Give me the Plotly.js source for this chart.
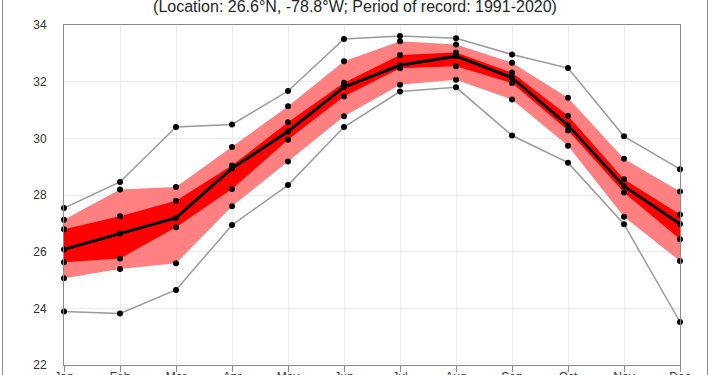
<!DOCTYPE html>
<html>
<head>
<meta charset="utf-8">
<script src="https://cdn.plot.ly/plotly-3.0.1.min.js"></script>
<style>
html, body { margin:0; padding:0; overflow:hidden; background:#fff; width:710px; height:375px; }
#chart { position:absolute; left:0; top:-20px; width:710px; height:420px; }
</style>
</head>
<body>
<div id="chart"></div>
<script>
const months = ["Jan","Feb","Mar","Apr","May","Jun","Jul","Aug","Sep","Oct","Nov","Dec"];
const tMax = [27.54, 28.46, 30.40, 30.49, 31.67, 33.51, 33.61, 33.53, 32.96, 32.48, 30.07, 28.91];
const tP90 = [27.13, 28.19, 28.28, 29.69, 31.13, 32.72, 33.43, 33.31, 32.67, 31.43, 29.28, 28.12];
const tP75 = [26.79, 27.25, 27.80, 29.04, 30.57, 31.96, 32.94, 33.03, 32.32, 30.80, 28.56, 27.31];
const tMed = [26.08, 26.64, 27.19, 28.94, 30.24, 31.81, 32.58, 32.90, 32.14, 30.46, 28.31, 26.98];
const tP25 = [25.63, 25.76, 26.86, 28.21, 29.95, 31.48, 32.47, 32.54, 31.95, 30.28, 28.09, 26.44];
const tP10 = [25.06, 25.39, 25.59, 27.60, 29.18, 30.78, 31.89, 32.07, 31.37, 29.74, 27.23, 25.67];
const tMin = [23.89, 23.82, 24.65, 26.94, 28.35, 30.40, 31.65, 31.80, 30.10, 29.14, 26.97, 23.52];
const yTicks = [22, 24, 26, 28, 30, 32, 34];
const titleText = "(Location: 26.6°N, -78.8°W; Period of record: 1991-2020)";

const noLine = {width: 0, color: 'rgba(0,0,0,0)'};
const traces = [
  {x: months, y: tP10, mode: 'lines', line: noLine, hoverinfo: 'skip'},
  {x: months, y: tP90, mode: 'lines', line: noLine, fill: 'tonexty', fillcolor: '#FF8080', hoverinfo: 'skip'},
  {x: months, y: tP25, mode: 'lines', line: noLine, hoverinfo: 'skip'},
  {x: months, y: tP75, mode: 'lines', line: noLine, fill: 'tonexty', fillcolor: '#FF0000', hoverinfo: 'skip'},
  {x: months, y: tMax, mode: 'lines', line: {color: '#9a9a9a', width: 1.5}},
  {x: months, y: tMin, mode: 'lines', line: {color: '#9a9a9a', width: 1.5}},
  {x: months, y: tMed, mode: 'lines', line: {color: '#000000', width: 3}}
];
[tMax, tP90, tP75, tMed, tP25, tP10, tMin].forEach(s => {
  traces.push({x: months, y: s, mode: 'markers', marker: {color: '#000', size: 6}, cliponaxis: false});
});

const layout = {
  width: 710, height: 420,
  margin: {l: 64, r: 30, t: 44.5, b: 35},
  showlegend: false,
  paper_bgcolor: '#fff', plot_bgcolor: '#fff',
  font: {family: 'Liberation Sans, Arial, sans-serif', color: '#333'},
  title: {text: titleText, x: 0.5, xref: 'container', xanchor: 'center',
          y: 1 - 26/420, yref: 'container', yanchor: 'middle',
          font: {size: 16, color: '#262626'}},
  xaxis: {
    type: 'category', range: [0, 11], fixedrange: true,
    showgrid: true, gridcolor: '#ebebeb', gridwidth: 1,
    showline: true, linecolor: '#8a8a8a', linewidth: 1, mirror: true,
    ticks: 'outside', ticklen: 6, tickcolor: '#8a8a8a', ticklabelstandoff: -5,
    tickfont: {size: 12, color: '#333'}, zeroline: false
  },
  yaxis: {
    range: [22, 34], tickvals: yTicks, ticktext: yTicks.map(String), fixedrange: true,
    showgrid: true, gridcolor: '#ebebeb', gridwidth: 1,
    showline: true, linecolor: '#8a8a8a', linewidth: 1, mirror: true,
    ticks: '', ticklabelstandoff: 14,
    tickfont: {size: 12, color: '#333'}, zeroline: false
  },
  shapes: [
    {type: 'line', xref: 'paper', yref: 'paper', x0: (2.5-64)/616, x1: (2.5-64)/616, y0: -0.2, y1: 1.2,
     line: {color: '#8a8a8a', width: 1}},
    {type: 'line', xref: 'paper', yref: 'paper', x0: (707.5-64)/616, x1: (707.5-64)/616, y0: -0.2, y1: 1.2,
     line: {color: '#8a8a8a', width: 1}}
  ]
};

Plotly.newPlot('chart', traces, layout, {staticPlot: true, displayModeBar: false});
</script>
</body>
</html>
